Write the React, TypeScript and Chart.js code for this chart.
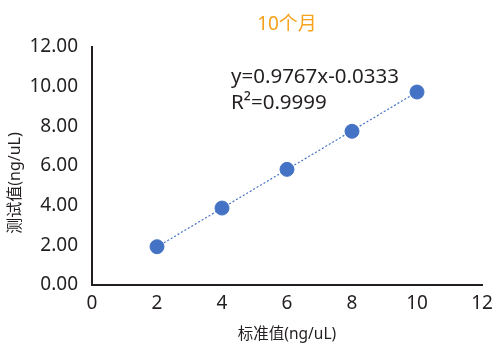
import React, { useEffect, useRef } from "react";
import { Chart, registerables } from "chart.js";

Chart.register(...registerables);

const TITLE = "10个月";
const X_TITLE = "标准值(ng/uL)";
const Y_TITLE = "测试值(ng/uL)";
const standardValues = [2, 4, 6, 8, 10];
const measuredValues = [1.93, 3.88, 5.83, 7.75, 9.73];
const trendX = [2, 10];
const trendY = [1.92, 9.73];
const equationLines = ["y=0.9767x-0.0333", "R²=0.9999"];
const axisMin = 0;
const axisMax = 12;
const axisStep = 2;

const FONT = '"Noto Sans", "Noto Sans CJK SC", sans-serif';
const TEXT = "#231f20";
const BLUE = "#4472c4";

const textPlugin = {
  id: "texts",
  afterDatasetsDraw(chart: any) {
    const { ctx } = chart;
    ctx.save();
    ctx.fillStyle = TEXT;
    ctx.font = `20.5px ${FONT}`;
    ctx.textAlign = "left";
    ctx.textBaseline = "middle";
    ctx.fillText(equationLines[0], 231, 77);
    ctx.fillText(equationLines[1], 231, 103);
    ctx.translate(15, 183);
    ctx.rotate(-Math.PI / 2);
    ctx.textAlign = "center";
    ctx.font = `16px ${FONT}`;
    ctx.fillText(Y_TITLE, 0, 0);
    ctx.restore();
  },
};

export default function App() {
  const ref = useRef<HTMLCanvasElement>(null);
  useEffect(() => {
    document.body.style.margin = "0";
    const chart = new Chart(ref.current!, {
      type: "scatter",
      data: {
        datasets: [
          {
            data: standardValues.map((x, i) => ({ x, y: measuredValues[i] })),
            backgroundColor: BLUE,
            borderColor: BLUE,
            pointRadius: 7,
            pointHoverRadius: 7,
            order: 1,
          },
          {
            data: trendX.map((x, i) => ({ x, y: trendY[i] })),
            showLine: true,
            borderColor: BLUE,
            borderWidth: 1.2,
            borderDash: [2, 2],
            pointRadius: 0,
            order: 2,
          } as any,
        ],
      },
      options: {
        responsive: false,
        animation: false,
        layout: { padding: { left: 0, right: 14, top: 0, bottom: 0 } },
        plugins: {
          legend: { display: false },
          tooltip: { enabled: false },
          title: {
            display: true,
            text: TITLE,
            color: "#f7a21b",
            fullSize: false,
            font: { family: FONT, size: 19, weight: "normal" },
            padding: { top: 13, bottom: 11.2 },
          },
        },
        scales: {
          x: {
            type: "linear",
            min: axisMin,
            max: axisMax,
            grid: { display: false, drawTicks: false },
            border: { display: true, color: TEXT, width: 2 },
            ticks: {
              stepSize: axisStep,
              color: TEXT,
              padding: 7,
              maxRotation: 0,
              font: { family: FONT, size: 19 },
            },
            title: {
              display: true,
              text: X_TITLE,
              color: TEXT,
              font: { family: FONT, size: 15.5 },
              padding: { top: 0, bottom: -1 },
            },
            afterFit(scale: any) {
              scale.height = 58;
              scale.paddingRight = 0;
              scale.paddingLeft = 0;
            },
          },
          y: {
            type: "linear",
            min: axisMin,
            max: axisMax,
            grid: { display: false, drawTicks: false },
            border: { display: true, color: TEXT, width: 2 },
            ticks: {
              stepSize: axisStep,
              color: TEXT,
              padding: 14,
              font: { family: FONT, size: 19 },
              callback: (v: any) => Number(v).toFixed(2),
            },
            afterFit(scale: any) {
              scale.width = 92;
            },
          },
        },
      },
      plugins: [textPlugin],
    });
    return () => chart.destroy();
  }, []);
  return (
    <div style={{ position: "fixed", left: 0, top: 0, width: 496, height: 343, background: "#fff" }}>
      <canvas ref={ref} width={496} height={343} />
    </div>
  );
}
